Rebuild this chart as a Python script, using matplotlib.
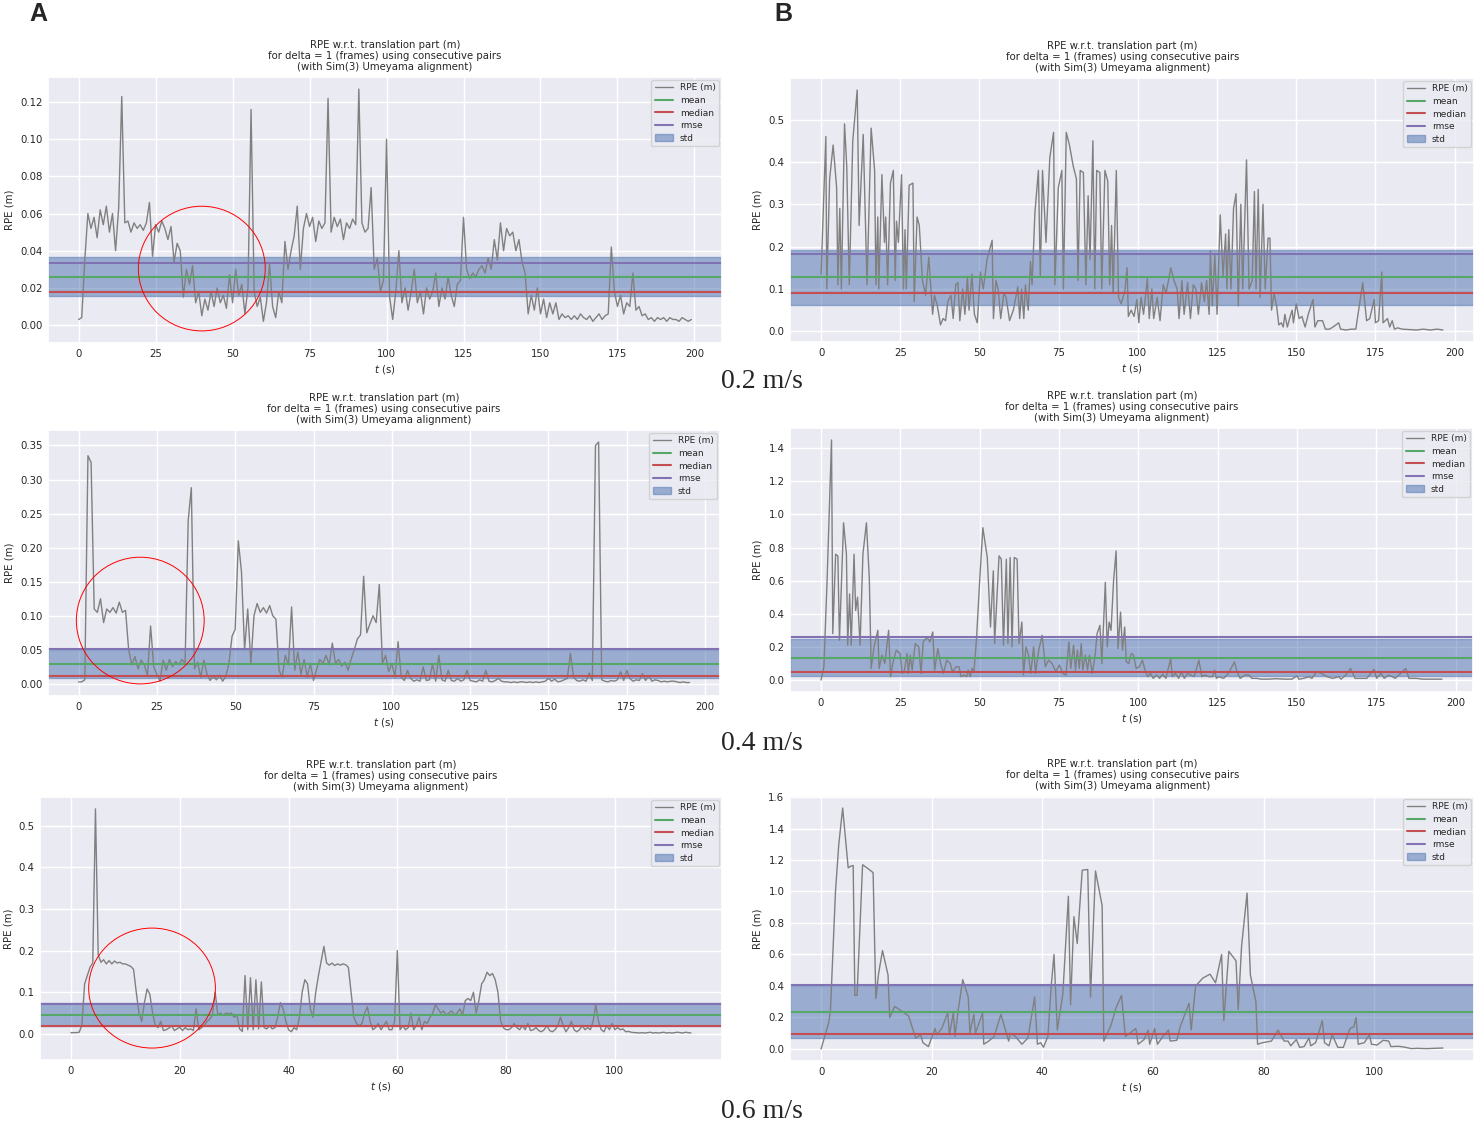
import numpy as np
import matplotlib
matplotlib.use("Agg")
import matplotlib.pyplot as plt
import seaborn as sns
from matplotlib.patches import Ellipse

# ---------------- data ----------------
TITLE = ("RPE w.r.t. translation part (m)\n"
         "for delta = 1 (frames) using consecutive pairs\n"
         "(with Sim(3) Umeyama alignment)")
LEGEND_NAMES = ["RPE (m)", "mean", "median", "rmse", "std"]
SPEED_LABELS = ["0.2 m/s", "0.4 m/s", "0.6 m/s"]
PANEL_LETTERS = ["A", "B"]

# A column: evenly sampled series (sample step in seconds)
a1_dt = 1.0
a1_rpe = [
    0.003, 0.004, 0.035, 0.060, 0.052, 0.058, 0.047, 0.062, 0.054, 0.064,
    0.050, 0.060, 0.040, 0.063, 0.123, 0.055, 0.056, 0.050, 0.055, 0.052,
    0.054, 0.051, 0.055, 0.066, 0.037, 0.054, 0.050, 0.056, 0.052, 0.046,
    0.053, 0.034, 0.044, 0.040, 0.015, 0.030, 0.022, 0.032, 0.012, 0.018,
    0.005, 0.014, 0.008, 0.018, 0.010, 0.020, 0.012, 0.016, 0.009, 0.027,
    0.012, 0.030, 0.016, 0.022, 0.006, 0.020, 0.116, 0.018, 0.010, 0.015,
    0.002, 0.012, 0.033, 0.010, 0.004, 0.018, 0.012, 0.045, 0.030, 0.040,
    0.048, 0.064, 0.030, 0.052, 0.060, 0.053, 0.058, 0.045, 0.056, 0.052,
    0.055, 0.122, 0.050, 0.058, 0.053, 0.057, 0.046, 0.055, 0.052, 0.057,
    0.054, 0.127, 0.055, 0.050, 0.052, 0.074, 0.030, 0.036, 0.018, 0.024,
    0.100, 0.015, 0.003, 0.018, 0.040, 0.012, 0.020, 0.008, 0.018, 0.030,
    0.012, 0.018, 0.006, 0.020, 0.014, 0.018, 0.028, 0.010, 0.020, 0.014,
    0.026, 0.016, 0.010, 0.022, 0.024, 0.058, 0.030, 0.025, 0.028, 0.026,
    0.030, 0.032, 0.028, 0.036, 0.030, 0.046, 0.035, 0.055, 0.040, 0.052,
    0.048, 0.050, 0.040, 0.046, 0.034, 0.028, 0.006, 0.016, 0.008, 0.020,
    0.006, 0.014, 0.004, 0.012, 0.006, 0.012, 0.003, 0.006, 0.004, 0.005,
    0.003, 0.005, 0.003, 0.006, 0.004, 0.003, 0.005, 0.002, 0.004, 0.006,
    0.003, 0.005, 0.006, 0.042, 0.018, 0.010, 0.016, 0.006, 0.012, 0.010,
    0.028, 0.008, 0.010, 0.005, 0.006, 0.003, 0.004, 0.002, 0.004, 0.003,
    0.004, 0.002, 0.004, 0.003, 0.003, 0.002, 0.004, 0.003, 0.002, 0.003,
]
a1_stats = {"mean": 0.026, "median": 0.018, "rmse": 0.0335, "std": 0.021}

a2_dt = 1.0
a2_rpe = [
    0.003, 0.003, 0.006, 0.335, 0.325, 0.110, 0.105, 0.125, 0.090, 0.110,
    0.105, 0.112, 0.104, 0.120, 0.105, 0.108, 0.050, 0.028, 0.040, 0.022,
    0.035, 0.028, 0.012, 0.085, 0.025, 0.014, 0.004, 0.035, 0.020, 0.036,
    0.025, 0.033, 0.028, 0.036, 0.030, 0.240, 0.288, 0.022, 0.032, 0.010,
    0.035, 0.014, 0.005, 0.012, 0.006, 0.013, 0.004, 0.011, 0.030, 0.070,
    0.080, 0.210, 0.165, 0.050, 0.110, 0.030, 0.100, 0.118, 0.105, 0.112,
    0.104, 0.115, 0.100, 0.095, 0.020, 0.010, 0.042, 0.028, 0.113, 0.020,
    0.047, 0.014, 0.036, 0.010, 0.030, 0.005, 0.022, 0.036, 0.030, 0.042,
    0.028, 0.060, 0.030, 0.036, 0.026, 0.032, 0.020, 0.036, 0.050, 0.066,
    0.072, 0.158, 0.075, 0.088, 0.100, 0.090, 0.146, 0.030, 0.042, 0.018,
    0.030, 0.010, 0.062, 0.010, 0.005, 0.020, 0.008, 0.004, 0.006, 0.004,
    0.025, 0.005, 0.006, 0.030, 0.004, 0.042, 0.006, 0.004, 0.020, 0.005,
    0.004, 0.008, 0.004, 0.006, 0.020, 0.005, 0.004, 0.003, 0.006, 0.004,
    0.020, 0.004, 0.003, 0.005, 0.008, 0.004, 0.003, 0.003, 0.002, 0.003,
    0.002, 0.003, 0.003, 0.002, 0.003, 0.002, 0.003, 0.002, 0.003, 0.004,
    0.008, 0.004, 0.007, 0.003, 0.004, 0.006, 0.008, 0.045, 0.010, 0.005,
    0.004, 0.006, 0.004, 0.016, 0.005, 0.350, 0.355, 0.006, 0.004, 0.003,
    0.005, 0.004, 0.006, 0.018, 0.005, 0.020, 0.008, 0.004, 0.006, 0.005,
    0.015, 0.005, 0.012, 0.004, 0.006, 0.005, 0.003, 0.004, 0.003, 0.004,
    0.004, 0.003, 0.002, 0.003, 0.002, 0.002,
]
a2_stats = {"mean": 0.029, "median": 0.011, "rmse": 0.051, "std": 0.042}

a3_dt = 0.5
a3_rpe = [
    0.003, 0.003, 0.003, 0.004, 0.020, 0.120, 0.140, 0.160, 0.170, 0.540,
    0.190, 0.172, 0.178, 0.168, 0.176, 0.168, 0.175, 0.170, 0.172, 0.168,
    0.168, 0.165, 0.162, 0.155, 0.100, 0.050, 0.030, 0.075, 0.108, 0.095,
    0.050, 0.020, 0.015, 0.030, 0.008, 0.010, 0.014, 0.020, 0.008, 0.012,
    0.016, 0.008, 0.015, 0.010, 0.012, 0.008, 0.060, 0.010, 0.015, 0.020,
    0.030, 0.035, 0.045, 0.100, 0.045, 0.050, 0.045, 0.050, 0.048, 0.050,
    0.040, 0.045, 0.012, 0.006, 0.140, 0.010, 0.135, 0.010, 0.130, 0.012,
    0.125, 0.015, 0.012, 0.020, 0.012, 0.015, 0.040, 0.075, 0.060, 0.030,
    0.010, 0.005, 0.015, 0.010, 0.040, 0.100, 0.130, 0.120, 0.060, 0.040,
    0.100, 0.140, 0.175, 0.210, 0.170, 0.165, 0.170, 0.164, 0.168, 0.165,
    0.168, 0.166, 0.160, 0.100, 0.040, 0.025, 0.020, 0.025, 0.050, 0.065,
    0.030, 0.010, 0.015, 0.025, 0.010, 0.020, 0.030, 0.010, 0.010, 0.030,
    0.200, 0.010, 0.020, 0.010, 0.015, 0.050, 0.010, 0.020, 0.040, 0.010,
    0.030, 0.025, 0.040, 0.050, 0.070, 0.060, 0.050, 0.055, 0.045, 0.050,
    0.055, 0.045, 0.050, 0.060, 0.045, 0.080, 0.085, 0.080, 0.100, 0.050,
    0.080, 0.120, 0.130, 0.148, 0.140, 0.145, 0.130, 0.100, 0.030, 0.015,
    0.010, 0.010, 0.015, 0.025, 0.015, 0.010, 0.020, 0.010, 0.025, 0.008,
    0.010, 0.015, 0.008, 0.005, 0.010, 0.020, 0.008, 0.005, 0.010, 0.020,
    0.040, 0.020, 0.005, 0.015, 0.030, 0.010, 0.005, 0.010, 0.020, 0.010,
    0.015, 0.010, 0.030, 0.070, 0.030, 0.010, 0.005, 0.020, 0.010, 0.025,
    0.010, 0.015, 0.010, 0.012, 0.005, 0.006, 0.004, 0.003, 0.003, 0.002,
    0.003, 0.002, 0.003, 0.004, 0.002, 0.003, 0.002, 0.003, 0.004, 0.002,
    0.003, 0.002, 0.003, 0.004, 0.003, 0.002, 0.004, 0.003, 0.002,
]
a3_stats = {"mean": 0.046, "median": 0.019, "rmse": 0.0725, "std": 0.056}

# B column: (t [s], RPE [m]) points
b1_points = [
    (0, 0.135), (1.5, 0.46), (1.8, 0.10), (2.7, 0.36), (3.8, 0.44), (4.9, 0.34),
    (5.3, 0.11), (5.9, 0.29), (6.4, 0.10), (7.4, 0.49), (8.1, 0.39), (8.9, 0.11),
    (10.0, 0.45), (11.4, 0.57), (12.0, 0.25), (13.3, 0.465), (14.5, 0.11),
    (15.8, 0.48), (16.9, 0.38), (17.3, 0.11), (17.9, 0.27), (18.2, 0.10),
    (19.2, 0.37), (20.0, 0.21), (20.4, 0.27), (21.0, 0.11), (21.9, 0.35),
    (22.8, 0.38), (23.4, 0.12), (23.8, 0.26), (24.4, 0.21), (25.4, 0.37),
    (26.0, 0.10), (26.5, 0.24), (26.9, 0.10), (27.8, 0.345), (29.0, 0.35),
    (29.4, 0.07), (30.3, 0.27), (31.0, 0.25), (32.0, 0.12), (33.0, 0.085),
    (34.0, 0.175), (34.5, 0.12), (35.2, 0.04), (35.8, 0.085), (36.7, 0.06),
    (37.7, 0.015), (38.5, 0.03), (39.3, 0.025), (40.0, 0.07), (41.0, 0.085),
    (41.7, 0.03), (42.5, 0.11), (43.2, 0.115), (43.8, 0.025), (44.7, 0.10),
    (45.4, 0.04), (46.2, 0.13), (46.7, 0.05), (47.6, 0.135), (48.4, 0.04),
    (49.3, 0.02), (50.3, 0.14), (51.2, 0.10), (52.4, 0.17), (54.0, 0.215),
    (54.4, 0.03), (55.2, 0.12), (55.9, 0.10), (56.7, 0.03), (57.7, 0.09),
    (58.4, 0.08), (59.5, 0.025), (60.7, 0.05), (62.1, 0.105), (62.7, 0.03),
    (63.3, 0.10), (64.0, 0.03), (64.5, 0.11), (65.4, 0.05), (66.1, 0.165),
    (66.6, 0.11), (67.5, 0.28), (68.6, 0.38), (69.2, 0.13), (69.9, 0.38),
    (71.0, 0.21), (72.2, 0.41), (73.4, 0.47), (73.8, 0.11), (74.9, 0.34),
    (76.0, 0.38), (76.5, 0.10), (77.4, 0.47), (78.4, 0.44), (79.6, 0.39),
    (80.6, 0.36), (81.1, 0.12), (81.8, 0.38), (82.8, 0.375), (83.6, 0.11),
    (84.3, 0.32), (84.9, 0.17), (85.8, 0.45), (86.4, 0.10), (87.0, 0.38),
    (88.0, 0.375), (88.6, 0.10), (89.6, 0.38), (90.5, 0.355), (91.1, 0.11),
    (91.7, 0.25), (92.2, 0.09), (93.2, 0.38), (93.9, 0.08), (94.7, 0.065),
    (95.9, 0.095), (96.6, 0.15), (97.0, 0.035), (97.9, 0.05), (98.8, 0.035),
    (99.7, 0.075), (100.3, 0.02), (101.0, 0.08), (101.8, 0.04), (103.0, 0.125),
    (103.6, 0.03), (104.4, 0.10), (105.0, 0.03), (106.1, 0.08), (107.0, 0.025),
    (108.0, 0.11), (108.9, 0.09), (110.4, 0.15), (111.4, 0.12), (112.4, 0.10),
    (113.0, 0.03), (113.9, 0.12), (114.6, 0.04), (115.7, 0.115), (116.6, 0.03),
    (117.5, 0.11), (118.3, 0.10), (119.1, 0.04), (120.1, 0.115), (121.0, 0.07),
    (121.7, 0.12), (122.5, 0.04), (122.9, 0.19), (123.5, 0.06), (124.3, 0.18),
    (125.0, 0.04), (126.0, 0.275), (126.9, 0.13), (127.7, 0.23), (128.1, 0.10),
    (128.7, 0.24), (129.4, 0.10), (130.2, 0.29), (131.0, 0.325), (131.7, 0.06),
    (132.5, 0.30), (133.1, 0.10), (134.3, 0.405), (135.1, 0.10), (136.1, 0.12),
    (136.8, 0.33), (137.3, 0.10), (138.0, 0.335), (138.6, 0.08), (139.5, 0.30),
    (140.2, 0.10), (141.1, 0.22), (141.7, 0.22), (142.2, 0.05), (143.0, 0.09),
    (143.8, 0.06), (144.5, 0.015), (145.3, 0.02), (145.9, 0.01), (146.4, 0.04),
    (147.2, 0.01), (147.9, 0.03), (148.7, 0.05), (149.1, 0.02), (150.0, 0.065),
    (150.9, 0.03), (151.8, 0.035), (152.8, 0.01), (153.8, 0.04), (155.3, 0.075),
    (155.9, 0.01), (156.8, 0.025), (158.3, 0.025), (159.2, 0.005), (160.5, 0.005),
    (161.6, 0.01), (163.4, 0.02), (164.0, 0.005), (165.8, 0.003), (167.3, 0.005),
    (168.8, 0.005), (169.7, 0.05), (171.0, 0.115), (172.2, 0.025), (173.2, 0.03),
    (174.6, 0.075), (175.0, 0.02), (176.0, 0.025), (177.0, 0.14), (177.4, 0.02),
    (178.8, 0.03), (179.5, 0.01), (180.3, 0.025), (181.0, 0.005), (182.0, 0.008),
    (183.5, 0.005), (185.7, 0.004), (187.9, 0.003), (190.1, 0.005), (192.3, 0.003),
    (194.5, 0.005), (196.3, 0.003),
]
b1_stats = {"mean": 0.128, "median": 0.090, "rmse": 0.183, "std": 0.130}

b2_points = [
    (0, 0.0), (0.9, 0.08), (1.9, 0.6), (3.3, 1.45), (3.7, 0.28), (4.6, 0.76),
    (5.3, 0.75), (5.8, 0.24), (7.1, 0.95), (8.0, 0.76), (8.4, 0.21), (9.0, 0.52),
    (9.5, 0.21), (10.4, 0.76), (10.9, 0.42), (11.5, 0.5), (12.3, 0.21), (13.2, 0.76),
    (14.3, 0.95), (15.2, 0.62), (15.8, 0.07), (16.7, 0.2), (17.9, 0.3), (18.3, 0.07),
    (19.2, 0.15), (20.1, 0.1), (21.3, 0.3), (21.9, 0.02), (22.6, 0.1), (23.7, 0.18),
    (24.9, 0.16), (25.6, 0.04), (26.3, 0.06), (27.1, 0.16), (27.5, 0.04), (28.1, 0.15),
    (28.7, 0.06), (29.7, 0.22), (30.8, 0.2), (31.5, 0.04), (32.2, 0.23), (33.4, 0.26),
    (34.3, 0.23), (35.2, 0.29), (35.8, 0.06), (36.8, 0.19), (37.7, 0.1), (38.6, 0.04),
    (39.6, 0.12), (40.7, 0.1), (41.4, 0.05), (42.6, 0.08), (43.5, 0.08), (44.1, 0.02),
    (45.0, 0.03), (45.9, 0.02), (46.4, 0.06), (47.0, 0.02), (47.6, 0.07), (48.2, 0.05),
    (49.0, 0.25), (50.0, 0.6), (51.0, 0.92), (52.4, 0.74), (53.4, 0.32), (54.3, 0.66),
    (54.7, 0.22), (56.1, 0.75), (56.8, 0.73), (57.5, 0.21), (58.4, 0.73), (58.9, 0.22),
    (59.6, 0.74), (60.2, 0.2), (60.9, 0.74), (61.8, 0.73), (62.4, 0.22), (63.3, 0.35),
    (63.8, 0.03), (64.6, 0.2), (65.4, 0.15), (66.1, 0.04), (67.0, 0.2), (67.6, 0.04),
    (68.6, 0.18), (69.7, 0.27), (70.7, 0.08), (71.7, 0.12), (72.8, 0.1), (74.0, 0.05),
    (75.1, 0.09), (76.2, 0.04), (77.2, 0.03), (78.1, 0.23), (78.7, 0.07), (79.6, 0.21),
    (80.2, 0.06), (80.8, 0.18), (81.4, 0.07), (82.0, 0.22), (82.5, 0.06), (83.3, 0.15),
    (84.0, 0.06), (84.6, 0.15), (85.5, 0.04), (86.4, 0.15), (87.0, 0.28), (87.9, 0.33),
    (88.5, 0.1), (89.6, 0.59), (90.2, 0.2), (90.8, 0.35), (91.4, 0.3), (92.2, 0.6),
    (93.0, 0.78), (93.6, 0.19), (94.4, 0.41), (95.0, 0.18), (95.7, 0.32), (96.2, 0.11),
    (97.0, 0.1), (97.8, 0.16), (98.5, 0.15), (99.3, 0.07), (100.3, 0.08), (101.3, 0.12),
    (102.1, 0.06), (103.0, 0.02), (103.8, 0.04), (104.7, 0.01), (105.8, 0.03),
    (106.7, 0.01), (107.7, 0.035), (108.7, 0.01), (110.2, 0.13), (110.7, 0.02),
    (111.7, 0.04), (112.7, 0.01), (113.6, 0.05), (114.5, 0.01), (115.5, 0.04),
    (116.6, 0.03), (117.6, 0.02), (119.1, 0.12), (120.0, 0.02), (121.0, 0.03),
    (122.2, 0.02), (123.4, 0.02), (124.0, 0.06), (124.6, 0.01), (125.4, 0.02),
    (126.9, 0.01), (128.4, 0.04), (130.3, 0.11), (131.1, 0.05), (132.1, 0.01),
    (133.6, 0.03), (134.8, 0.03), (135.8, 0.01), (137.3, 0.01), (138.8, 0.005),
    (141.0, 0.005), (143.2, 0.008), (146.2, 0.005), (148.4, 0.005), (150.0, 0.025),
    (150.6, 0.005), (152.1, 0.01), (153.8, 0.02), (154.7, 0.01), (156.2, 0.05),
    (157.7, 0.04), (159.5, 0.02), (161.2, 0.01), (163.2, 0.02), (163.9, 0.005),
    (165.4, 0.03), (166.9, 0.07), (168.3, 0.01), (169.8, 0.01), (172.0, 0.01),
    (174.3, 0.065), (175.1, 0.01), (176.5, 0.04), (177.5, 0.01), (179.0, 0.03),
    (181.0, 0.01), (184.3, 0.07), (185.3, 0.01), (187.6, 0.01), (189.8, 0.005),
    (192.0, 0.005), (195.7, 0.005),
]
b2_stats = {"mean": 0.135, "median": 0.048, "rmse": 0.262, "std": 0.225}

b3_points = [
    (0, 0.0), (1.4, 0.17), (1.7, 0.25), (2.6, 1.0), (3.2, 1.3), (3.9, 1.53),
    (4.9, 1.15), (5.3, 1.16), (5.8, 1.165), (6.1, 0.34), (6.5, 0.34), (7.5, 1.17),
    (8.3, 1.15), (9.4, 1.12), (9.9, 0.32), (10.4, 0.48), (11.1, 0.625), (12.1, 0.47),
    (12.4, 0.2), (13.3, 0.27), (14.6, 0.24), (15.8, 0.21), (17.1, 0.07), (18.0, 0.09),
    (18.4, 0.04), (19.4, 0.015), (20.6, 0.13), (20.9, 0.09), (21.8, 0.13), (22.9, 0.23),
    (23.2, 0.09), (23.9, 0.23), (24.2, 0.08), (24.8, 0.25), (25.6, 0.44), (26.6, 0.33),
    (26.9, 0.1), (27.6, 0.22), (27.9, 0.1), (29.2, 0.23), (29.4, 0.03), (30.3, 0.05),
    (31.3, 0.08), (32.5, 0.22), (33.9, 0.05), (34.2, 0.1), (35.1, 0.08), (36.3, 0.03),
    (37.4, 0.07), (38.6, 0.33), (39.1, 0.03), (39.7, 0.04), (40.2, 0.01), (41.0, 0.08),
    (41.6, 0.4), (42.1, 0.6), (42.7, 0.12), (43.7, 0.35), (44.7, 0.97), (45.1, 0.28),
    (45.7, 0.84), (46.3, 0.67), (47.2, 1.135), (48.2, 1.14), (48.7, 0.33), (49.6, 1.13),
    (50.8, 0.91), (51.1, 0.05), (52.4, 0.15), (53.3, 0.26), (54.3, 0.34), (55.0, 0.08),
    (55.8, 0.1), (56.9, 0.13), (57.3, 0.03), (58.4, 0.06), (59.1, 0.12), (59.4, 0.03),
    (60.3, 0.13), (60.8, 0.03), (61.8, 0.08), (62.8, 0.12), (63.1, 0.05), (64.3, 0.055),
    (64.9, 0.14), (66.5, 0.29), (66.9, 0.12), (67.7, 0.4), (69.0, 0.45), (70.3, 0.475),
    (71.3, 0.42), (72.4, 0.6), (72.8, 0.18), (73.7, 0.62), (75.0, 0.56), (75.4, 0.25),
    (76.0, 0.65), (77.0, 0.99), (77.6, 0.47), (78.6, 0.3), (78.9, 0.03), (79.8, 0.04),
    (81.4, 0.05), (82.6, 0.12), (83.7, 0.05), (84.4, 0.05), (84.9, 0.02), (85.9, 0.06),
    (86.5, 0.01), (87.3, 0.015), (88.2, 0.07), (88.5, 0.02), (89.4, 0.04), (90.6, 0.18),
    (91.0, 0.04), (91.8, 0.02), (92.4, 0.09), (93.4, 0.01), (94.4, 0.01), (95.6, 0.13),
    (96.3, 0.14), (96.7, 0.2), (97.1, 0.03), (98.2, 0.04), (99.1, 0.09), (99.5, 0.03),
    (100.5, 0.025), (101.6, 0.055), (102.6, 0.05), (103.0, 0.015), (104.3, 0.017),
    (105.4, 0.012), (106.7, 0.002), (107.7, 0.004), (109.4, 0.002), (111.0, 0.004),
    (112.4, 0.006),
]
b3_stats = {"mean": 0.232, "median": 0.095, "rmse": 0.403, "std": 0.33}

# red highlight circles in the A column: (t centre, RPE centre, width s, height m)
a1_circle = (40.0, 0.0304, 41.2, 0.0671)
a2_circle = (19.7, 0.093, 40.8, 0.186)
a3_circle = (14.9, 0.110, 23.3, 0.288)

# ---------------- style ----------------
sns.set_theme(style="darkgrid")
plt.rcParams['font.family'] = ['DejaVu Sans']

C_LINE = "gray"
C_MEAN = "#55a868"
C_MEDIAN = "#c44e52"
C_RMSE = "#8172b2"
C_STD = "#4c72b0"

W, H = 1476, 1125
fig = plt.figure(figsize=(W / 100, H / 100), dpi=100)


def rect(l, r, t, b):
    return [l / W, 1 - b / H, (r - l) / W, (b - t) / H]


def even_series(values, dt):
    v = np.asarray(values, dtype=float)
    return np.arange(len(v)) * dt, v


def pair_series(points):
    arr = np.asarray(points, dtype=float)
    return arr[:, 0], arr[:, 1]


# (left, right, top, bottom) in pixels, ylabel anchor x pixel, title x offset
panels = [
    ((48, 722, 77, 343), 14, even_series(a1_rpe, a1_dt), a1_stats, 0.5, a1_circle),
    ((790, 1474, 78, 342), 763, pair_series(b1_points), b1_stats, 0.486, None),
    ((48, 720, 430, 696), 14, even_series(a2_rpe, a2_dt), a2_stats, 0.5, a2_circle),
    ((790, 1473, 428, 692), 763, pair_series(b2_points), b2_stats, 0.486, None),
    ((40, 722, 797, 1060), 14, even_series(a3_rpe, a3_dt), a3_stats, 0.5, a3_circle),
    ((790, 1474, 796, 1061), 763, pair_series(b3_points), b3_stats, 0.486, None),
]

for (l, r, tp, bt), ylx, (t, v), st, tx, circ in panels:
    ax = fig.add_axes(rect(l, r, tp, bt))
    ax.plot(t, v, color=C_LINE, lw=1.0, label=LEGEND_NAMES[0])
    ax.axhline(st["mean"], color=C_MEAN, lw=1.5, label=LEGEND_NAMES[1])
    ax.axhline(st["median"], color=C_MEDIAN, lw=1.5, label=LEGEND_NAMES[2])
    ax.axhline(st["rmse"], color=C_RMSE, lw=1.5, label=LEGEND_NAMES[3])
    ax.axhspan(st["mean"] - st["std"] / 2, st["mean"] + st["std"] / 2,
               color=C_STD, alpha=0.5, label=LEGEND_NAMES[4])
    ax.set_title(TITLE, fontsize=7.3, pad=5, x=tx, color=".15", linespacing=1.15)
    ax.set_xlabel("$t$ (s)", fontsize=7.3, labelpad=3)
    ax.set_ylabel("RPE (m)", fontsize=7.3)
    ax.yaxis.set_label_coords((ylx - l) / (r - l), 0.5)
    ax.tick_params(labelsize=7.3, length=0, pad=4)
    ax.legend(loc="upper right", fontsize=6.5, labelspacing=0.4,
              handlelength=2.0, borderaxespad=0.3, borderpad=0.4)
    if circ is not None:
        ax.add_patch(Ellipse((circ[0], circ[1]), circ[2], circ[3], fill=False,
                             edgecolor="red", lw=0.7, clip_on=False, zorder=5))

# panel letters and speed labels
fig.text(38 / W, 1 - 14 / H, PANEL_LETTERS[0], fontsize=18, fontweight="bold",
         ha="center", va="center", family="Liberation Sans")
fig.text(783 / W, 1 - 14 / H, PANEL_LETTERS[1], fontsize=18, fontweight="bold",
         ha="center", va="center", family="Liberation Sans")
for lbl, y in zip(SPEED_LABELS, [381, 744, 1112]):
    fig.text(762 / W, 1 - y / H, lbl, fontsize=20, ha="center", va="center",
             family="Liberation Serif")

fig.savefig("out.png", dpi=100)
